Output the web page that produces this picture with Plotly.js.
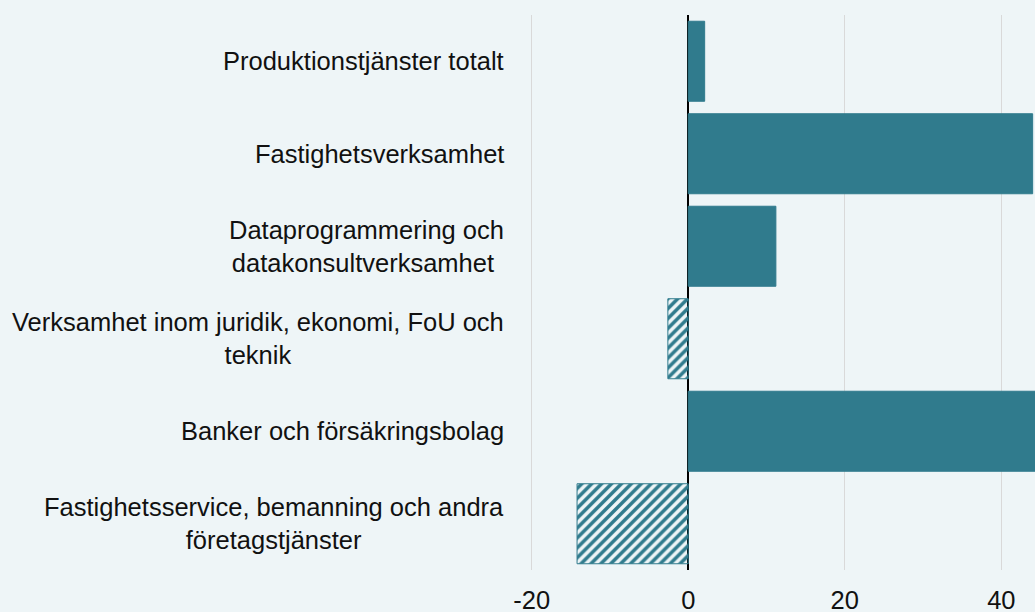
<!DOCTYPE html>
<html><head><meta charset="utf-8">
<script src="https://cdn.plot.ly/plotly-3.0.1.min.js"></script>
<style>html,body{margin:0;padding:0;background:#eef5f7;}</style>
</head><body>
<div id="chart" style="width:1035px;height:612px;"></div>
<script>
const categories = [
  "Produktionstjänster totalt",
  "Fastighetsverksamhet",
  "Dataprogrammering och<br>datakonsultverksamhet ",
  "Verksamhet inom juridik, ekonomi, FoU och<br>teknik",
  "Banker och försäkringsbolag",
  "Fastighetsservice, bemanning och andra<br>företagstjänster"
];
const values = [2.1, 44.0, 11.2, -2.6, 50, -14.2];
const tickVals = [-20, 0, 20, 40];
const tickText = ["-20", "0", "20", "40"];

const teal = "#307b8d";
const shapes = values.map(v => v < 0 ? "/" : "");
const keys = categories.map((c, i) => "c" + i);
const FONT = "'Liberation Sans', Arial, sans-serif";

const trace = {
  type: "bar",
  orientation: "h",
  y: keys,
  x: values,
  width: 0.865,
  marker: {
    color: values.map(v => teal),
    line: {color: teal, width: 1},
    pattern: {
      shape: shapes,
      fgcolor: values.map(v => teal),
      bgcolor: values.map(v => "#ffffff"),
      fgopacity: 1, size: 7, solidity: 0.5, fillmode: "replace"
    }
  },
  hoverinfo: "none"
};

const annotations = categories.map((c, i) => ({
  text: c, xref: "paper", x: 0, xanchor: "right", xshift: -10,
  yref: "y", y: keys[i], yanchor: "middle", align: "center",
  showarrow: false,
  font: {family: FONT, size: 25.5, color: "#111111"}
}));

const layout = {
  width: 1035, height: 612,
  paper_bgcolor: "#eef5f7", plot_bgcolor: "#eef5f7",
  margin: {l: 516, r: 0, t: 15, b: 42},
  showlegend: false,
  xaxis: {
    range: [-22.0, 44.3],
    tickvals: tickVals, ticktext: tickText,
    showgrid: true, gridcolor: "#d9d9d9", gridwidth: 1,
    zeroline: true, zerolinecolor: "#000000", zerolinewidth: 2,
    showline: false, ticks: "",
    ticklabelstandoff: 12,
    tickfont: {family: FONT, size: 25.5, color: "#111111"}
  },
  yaxis: {
    type: "category", autorange: "reversed",
    showticklabels: false, showgrid: false, zeroline: false, ticks: ""
  },
  annotations: annotations
};

Plotly.newPlot("chart", [trace], layout, {displayModeBar: false, staticPlot: true});
</script>
</body></html>
